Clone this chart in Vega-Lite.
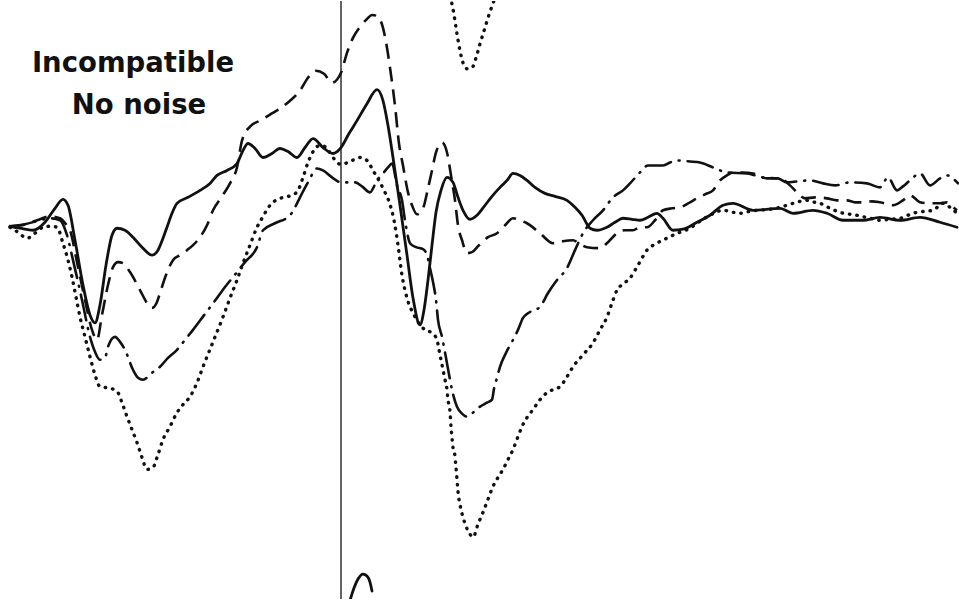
{
  "$schema": "https://vega.github.io/schema/vega-lite/v6.json",
  "width": 959,
  "height": 600,
  "autosize": {"type": "fit", "contains": "padding"},
  "padding": 0,
  "background": "white",
  "config": {"view": {"stroke": null}},
  "datasets": {
    "curves": [
      {"s":"solid","x":10,"y":226},{"s":"solid","x":20,"y":228},{"s":"solid","x":33,"y":230},{"s":"solid","x":45,"y":222},{"s":"solid","x":55,"y":208},{"s":"solid","x":63,"y":199},{"s":"solid","x":68,"y":205},{"s":"solid","x":75,"y":240},{"s":"solid","x":83,"y":285},{"s":"solid","x":90,"y":315},{"s":"solid","x":95,"y":323},{"s":"solid","x":100,"y":305},{"s":"solid","x":106,"y":265},{"s":"solid","x":112,"y":235},{"s":"solid","x":117,"y":228},{"s":"solid","x":125,"y":230},{"s":"solid","x":133,"y":237},{"s":"solid","x":142,"y":247},{"s":"solid","x":152,"y":255},{"s":"solid","x":158,"y":250},{"s":"solid","x":163,"y":238},{"s":"solid","x":167,"y":227},{"s":"solid","x":172,"y":213},{"s":"solid","x":177,"y":203},{"s":"solid","x":188,"y":197},{"s":"solid","x":200,"y":190},{"s":"solid","x":210,"y":183},{"s":"solid","x":217,"y":175},{"s":"solid","x":227,"y":170},{"s":"solid","x":237,"y":163},{"s":"solid","x":243,"y":150},{"s":"solid","x":248,"y":143},{"s":"solid","x":255,"y":148},{"s":"solid","x":263,"y":157},{"s":"solid","x":272,"y":153},{"s":"solid","x":280,"y":148},{"s":"solid","x":288,"y":151},{"s":"solid","x":297,"y":157},{"s":"solid","x":305,"y":147},{"s":"solid","x":313,"y":138},{"s":"solid","x":323,"y":147},{"s":"solid","x":333,"y":153},{"s":"solid","x":341,"y":147},{"s":"solid","x":349,"y":133},{"s":"solid","x":357,"y":120},{"s":"solid","x":367,"y":103},{"s":"solid","x":377,"y":89},{"s":"solid","x":383,"y":100},{"s":"solid","x":388,"y":125},{"s":"solid","x":393,"y":157},{"s":"solid","x":400,"y":205},{"s":"solid","x":407,"y":255},{"s":"solid","x":413,"y":298},{"s":"solid","x":420,"y":325},{"s":"solid","x":424,"y":310},{"s":"solid","x":428,"y":280},{"s":"solid","x":432,"y":245},{"s":"solid","x":436,"y":212},{"s":"solid","x":441,"y":190},{"s":"solid","x":447,"y":177},{"s":"solid","x":453,"y":182},{"s":"solid","x":458,"y":197},{"s":"solid","x":463,"y":210},{"s":"solid","x":470,"y":219},{"s":"solid","x":477,"y":215},{"s":"solid","x":485,"y":205},{"s":"solid","x":492,"y":196},{"s":"solid","x":500,"y":187},{"s":"solid","x":507,"y":180},{"s":"solid","x":513,"y":173},{"s":"solid","x":520,"y":175},{"s":"solid","x":527,"y":180},{"s":"solid","x":535,"y":187},{"s":"solid","x":545,"y":193},{"s":"solid","x":555,"y":196},{"s":"solid","x":567,"y":200},{"s":"solid","x":575,"y":207},{"s":"solid","x":582,"y":215},{"s":"solid","x":590,"y":228},{"s":"solid","x":597,"y":230},{"s":"solid","x":607,"y":227},{"s":"solid","x":615,"y":222},{"s":"solid","x":623,"y":218},{"s":"solid","x":632,"y":219},{"s":"solid","x":640,"y":220},{"s":"solid","x":648,"y":217},{"s":"solid","x":657,"y":213},{"s":"solid","x":663,"y":218},{"s":"solid","x":673,"y":230},{"s":"solid","x":683,"y":229},{"s":"solid","x":697,"y":222},{"s":"solid","x":710,"y":215},{"s":"solid","x":723,"y":205},{"s":"solid","x":733,"y":203},{"s":"solid","x":753,"y":210},{"s":"solid","x":780,"y":208},{"s":"solid","x":793,"y":213},{"s":"solid","x":813,"y":210},{"s":"solid","x":827,"y":213},{"s":"solid","x":843,"y":220},{"s":"solid","x":863,"y":220},{"s":"solid","x":880,"y":217},{"s":"solid","x":900,"y":220},{"s":"solid","x":920,"y":217},{"s":"solid","x":940,"y":222},{"s":"solid","x":957,"y":227},

      {"s":"dashed","x":10,"y":226},{"s":"dashed","x":22,"y":225},{"s":"dashed","x":37,"y":220},{"s":"dashed","x":50,"y":216},{"s":"dashed","x":60,"y":218},{"s":"dashed","x":66,"y":224},{"s":"dashed","x":70,"y":230},{"s":"dashed","x":77,"y":262},{"s":"dashed","x":85,"y":300},{"s":"dashed","x":92,"y":330},{"s":"dashed","x":97,"y":340},{"s":"dashed","x":102,"y":315},{"s":"dashed","x":108,"y":285},{"s":"dashed","x":113,"y":267},{"s":"dashed","x":118,"y":262},{"s":"dashed","x":123,"y":263},{"s":"dashed","x":130,"y":272},{"s":"dashed","x":140,"y":290},{"s":"dashed","x":147,"y":303},{"s":"dashed","x":152,"y":308},{"s":"dashed","x":157,"y":302},{"s":"dashed","x":160,"y":293},{"s":"dashed","x":166,"y":275},{"s":"dashed","x":173,"y":260},{"s":"dashed","x":180,"y":255},{"s":"dashed","x":187,"y":250},{"s":"dashed","x":193,"y":245},{"s":"dashed","x":200,"y":237},{"s":"dashed","x":207,"y":225},{"s":"dashed","x":213,"y":210},{"s":"dashed","x":222,"y":196},{"s":"dashed","x":230,"y":183},{"s":"dashed","x":237,"y":167},{"s":"dashed","x":242,"y":140},{"s":"dashed","x":250,"y":126},{"s":"dashed","x":260,"y":120},{"s":"dashed","x":270,"y":114},{"s":"dashed","x":280,"y":108},{"s":"dashed","x":290,"y":100},{"s":"dashed","x":300,"y":90},{"s":"dashed","x":308,"y":77},{"s":"dashed","x":316,"y":70},{"s":"dashed","x":324,"y":73},{"s":"dashed","x":332,"y":82},{"s":"dashed","x":341,"y":72},{"s":"dashed","x":347,"y":52},{"s":"dashed","x":353,"y":37},{"s":"dashed","x":360,"y":26},{"s":"dashed","x":367,"y":18},{"s":"dashed","x":372,"y":14},{"s":"dashed","x":377,"y":15},{"s":"dashed","x":383,"y":27},{"s":"dashed","x":387,"y":47},{"s":"dashed","x":390,"y":67},{"s":"dashed","x":395,"y":105},{"s":"dashed","x":399,"y":143},{"s":"dashed","x":403,"y":165},{"s":"dashed","x":408,"y":192},{"s":"dashed","x":412,"y":205},{"s":"dashed","x":417,"y":214},{"s":"dashed","x":423,"y":208},{"s":"dashed","x":428,"y":188},{"s":"dashed","x":432,"y":170},{"s":"dashed","x":436,"y":152},{"s":"dashed","x":442,"y":142},{"s":"dashed","x":447,"y":152},{"s":"dashed","x":451,"y":175},{"s":"dashed","x":455,"y":200},{"s":"dashed","x":458,"y":225},{"s":"dashed","x":462,"y":240},{"s":"dashed","x":467,"y":253},{"s":"dashed","x":472,"y":252},{"s":"dashed","x":478,"y":246},{"s":"dashed","x":488,"y":237},{"s":"dashed","x":497,"y":233},{"s":"dashed","x":505,"y":225},{"s":"dashed","x":513,"y":218},{"s":"dashed","x":520,"y":220},{"s":"dashed","x":527,"y":223},{"s":"dashed","x":540,"y":233},{"s":"dashed","x":553,"y":243},{"s":"dashed","x":563,"y":241},{"s":"dashed","x":573,"y":240},{"s":"dashed","x":580,"y":244},{"s":"dashed","x":587,"y":247},{"s":"dashed","x":600,"y":248},{"s":"dashed","x":608,"y":242},{"s":"dashed","x":617,"y":233},{"s":"dashed","x":625,"y":230},{"s":"dashed","x":633,"y":230},{"s":"dashed","x":640,"y":227},{"s":"dashed","x":647,"y":227},{"s":"dashed","x":655,"y":220},{"s":"dashed","x":663,"y":210},{"s":"dashed","x":672,"y":208},{"s":"dashed","x":680,"y":207},{"s":"dashed","x":690,"y":202},{"s":"dashed","x":697,"y":198},{"s":"dashed","x":705,"y":194},{"s":"dashed","x":713,"y":190},{"s":"dashed","x":720,"y":180},{"s":"dashed","x":727,"y":175},{"s":"dashed","x":733,"y":172},{"s":"dashed","x":743,"y":172},{"s":"dashed","x":753,"y":173},{"s":"dashed","x":767,"y":178},{"s":"dashed","x":780,"y":178},{"s":"dashed","x":790,"y":185},{"s":"dashed","x":797,"y":192},{"s":"dashed","x":805,"y":198},{"s":"dashed","x":815,"y":197},{"s":"dashed","x":827,"y":198},{"s":"dashed","x":837,"y":200},{"s":"dashed","x":847,"y":200},{"s":"dashed","x":855,"y":202},{"s":"dashed","x":863,"y":202},{"s":"dashed","x":872,"y":201},{"s":"dashed","x":880,"y":202},{"s":"dashed","x":893,"y":205},{"s":"dashed","x":903,"y":200},{"s":"dashed","x":910,"y":195},{"s":"dashed","x":915,"y":198},{"s":"dashed","x":920,"y":202},{"s":"dashed","x":930,"y":203},{"s":"dashed","x":940,"y":203},{"s":"dashed","x":947,"y":202},{"s":"dashed","x":952,"y":206},{"s":"dashed","x":957,"y":210},

      {"s":"dotted","x":10,"y":227},{"s":"dotted","x":18,"y":232},{"s":"dotted","x":27,"y":238},{"s":"dotted","x":35,"y":233},{"s":"dotted","x":43,"y":227},{"s":"dotted","x":50,"y":226},{"s":"dotted","x":57,"y":227},{"s":"dotted","x":63,"y":243},{"s":"dotted","x":68,"y":260},{"s":"dotted","x":72,"y":277},{"s":"dotted","x":76,"y":297},{"s":"dotted","x":80,"y":317},{"s":"dotted","x":85,"y":337},{"s":"dotted","x":90,"y":357},{"s":"dotted","x":95,"y":375},{"s":"dotted","x":100,"y":387},{"s":"dotted","x":107,"y":388},{"s":"dotted","x":112,"y":389},{"s":"dotted","x":118,"y":393},{"s":"dotted","x":122,"y":403},{"s":"dotted","x":127,"y":417},{"s":"dotted","x":132,"y":430},{"s":"dotted","x":137,"y":443},{"s":"dotted","x":142,"y":458},{"s":"dotted","x":147,"y":470},{"s":"dotted","x":153,"y":468},{"s":"dotted","x":158,"y":455},{"s":"dotted","x":163,"y":440},{"s":"dotted","x":170,"y":427},{"s":"dotted","x":177,"y":413},{"s":"dotted","x":183,"y":405},{"s":"dotted","x":190,"y":397},{"s":"dotted","x":197,"y":383},{"s":"dotted","x":203,"y":367},{"s":"dotted","x":213,"y":342},{"s":"dotted","x":223,"y":317},{"s":"dotted","x":230,"y":298},{"s":"dotted","x":237,"y":280},{"s":"dotted","x":243,"y":263},{"s":"dotted","x":250,"y":245},{"s":"dotted","x":257,"y":227},{"s":"dotted","x":262,"y":218},{"s":"dotted","x":270,"y":205},{"s":"dotted","x":283,"y":197},{"s":"dotted","x":292,"y":195},{"s":"dotted","x":298,"y":190},{"s":"dotted","x":303,"y":177},{"s":"dotted","x":308,"y":162},{"s":"dotted","x":312,"y":153},{"s":"dotted","x":317,"y":146},{"s":"dotted","x":322,"y":145},{"s":"dotted","x":327,"y":148},{"s":"dotted","x":333,"y":157},{"s":"dotted","x":341,"y":164},{"s":"dotted","x":350,"y":161},{"s":"dotted","x":360,"y":157},{"s":"dotted","x":367,"y":160},{"s":"dotted","x":373,"y":170},{"s":"dotted","x":380,"y":182},{"s":"dotted","x":385,"y":192},{"s":"dotted","x":390,"y":204},{"s":"dotted","x":394,"y":220},{"s":"dotted","x":398,"y":245},{"s":"dotted","x":402,"y":275},{"s":"dotted","x":407,"y":298},{"s":"dotted","x":414,"y":315},{"s":"dotted","x":425,"y":330},{"s":"dotted","x":432,"y":333},{"s":"dotted","x":437,"y":340},{"s":"dotted","x":439,"y":350},{"s":"dotted","x":441,"y":360},{"s":"dotted","x":443,"y":370},{"s":"dotted","x":445,"y":380},{"s":"dotted","x":447,"y":390},{"s":"dotted","x":448,"y":400},{"s":"dotted","x":450,"y":412},{"s":"dotted","x":451,"y":427},{"s":"dotted","x":452,"y":438},{"s":"dotted","x":453,"y":448},{"s":"dotted","x":455,"y":457},{"s":"dotted","x":456,"y":468},{"s":"dotted","x":457,"y":480},{"s":"dotted","x":458,"y":492},{"s":"dotted","x":461,"y":510},{"s":"dotted","x":463,"y":518},{"s":"dotted","x":466,"y":527},{"s":"dotted","x":470,"y":535},{"s":"dotted","x":473,"y":538},{"s":"dotted","x":478,"y":525},{"s":"dotted","x":483,"y":513},{"s":"dotted","x":488,"y":500},{"s":"dotted","x":493,"y":487},{"s":"dotted","x":498,"y":478},{"s":"dotted","x":503,"y":470},{"s":"dotted","x":508,"y":460},{"s":"dotted","x":513,"y":450},{"s":"dotted","x":518,"y":437},{"s":"dotted","x":522,"y":427},{"s":"dotted","x":527,"y":418},{"s":"dotted","x":533,"y":410},{"s":"dotted","x":540,"y":400},{"s":"dotted","x":547,"y":393},{"s":"dotted","x":553,"y":390},{"s":"dotted","x":560,"y":387},{"s":"dotted","x":567,"y":377},{"s":"dotted","x":573,"y":367},{"s":"dotted","x":583,"y":355},{"s":"dotted","x":593,"y":343},{"s":"dotted","x":600,"y":330},{"s":"dotted","x":607,"y":317},{"s":"dotted","x":612,"y":303},{"s":"dotted","x":617,"y":290},{"s":"dotted","x":623,"y":284},{"s":"dotted","x":630,"y":278},{"s":"dotted","x":638,"y":265},{"s":"dotted","x":647,"y":250},{"s":"dotted","x":657,"y":243},{"s":"dotted","x":667,"y":238},{"s":"dotted","x":673,"y":235},{"s":"dotted","x":680,"y":232},{"s":"dotted","x":690,"y":228},{"s":"dotted","x":697,"y":223},{"s":"dotted","x":710,"y":215},{"s":"dotted","x":723,"y":210},{"s":"dotted","x":733,"y":212},{"s":"dotted","x":740,"y":213},{"s":"dotted","x":750,"y":211},{"s":"dotted","x":757,"y":210},{"s":"dotted","x":770,"y":209},{"s":"dotted","x":780,"y":207},{"s":"dotted","x":793,"y":203},{"s":"dotted","x":807,"y":200},{"s":"dotted","x":815,"y":202},{"s":"dotted","x":820,"y":203},{"s":"dotted","x":830,"y":208},{"s":"dotted","x":840,"y":212},{"s":"dotted","x":857,"y":215},{"s":"dotted","x":870,"y":218},{"s":"dotted","x":880,"y":220},{"s":"dotted","x":890,"y":219},{"s":"dotted","x":900,"y":218},{"s":"dotted","x":913,"y":213},{"s":"dotted","x":925,"y":211},{"s":"dotted","x":933,"y":210},{"s":"dotted","x":943,"y":203},{"s":"dotted","x":950,"y":207},{"s":"dotted","x":957,"y":213},

      {"s":"dashdot","x":10,"y":226},{"s":"dashdot","x":25,"y":224},{"s":"dashdot","x":40,"y":220},{"s":"dashdot","x":50,"y":218},{"s":"dashdot","x":60,"y":220},{"s":"dashdot","x":67,"y":235},{"s":"dashdot","x":73,"y":260},{"s":"dashdot","x":82,"y":300},{"s":"dashdot","x":90,"y":337},{"s":"dashdot","x":95,"y":352},{"s":"dashdot","x":100,"y":360},{"s":"dashdot","x":105,"y":358},{"s":"dashdot","x":108,"y":347},{"s":"dashdot","x":115,"y":337},{"s":"dashdot","x":120,"y":342},{"s":"dashdot","x":125,"y":350},{"s":"dashdot","x":133,"y":370},{"s":"dashdot","x":138,"y":378},{"s":"dashdot","x":143,"y":380},{"s":"dashdot","x":152,"y":373},{"s":"dashdot","x":160,"y":367},{"s":"dashdot","x":168,"y":358},{"s":"dashdot","x":177,"y":350},{"s":"dashdot","x":185,"y":340},{"s":"dashdot","x":193,"y":330},{"s":"dashdot","x":205,"y":314},{"s":"dashdot","x":217,"y":298},{"s":"dashdot","x":225,"y":287},{"s":"dashdot","x":233,"y":277},{"s":"dashdot","x":245,"y":262},{"s":"dashdot","x":257,"y":247},{"s":"dashdot","x":263,"y":230},{"s":"dashdot","x":275,"y":223},{"s":"dashdot","x":290,"y":215},{"s":"dashdot","x":295,"y":207},{"s":"dashdot","x":300,"y":197},{"s":"dashdot","x":308,"y":182},{"s":"dashdot","x":317,"y":168},{"s":"dashdot","x":323,"y":170},{"s":"dashdot","x":332,"y":177},{"s":"dashdot","x":341,"y":182},{"s":"dashdot","x":348,"y":182},{"s":"dashdot","x":355,"y":182},{"s":"dashdot","x":362,"y":186},{"s":"dashdot","x":370,"y":192},{"s":"dashdot","x":377,"y":180},{"s":"dashdot","x":383,"y":173},{"s":"dashdot","x":388,"y":167},{"s":"dashdot","x":392,"y":163},{"s":"dashdot","x":397,"y":185},{"s":"dashdot","x":402,"y":200},{"s":"dashdot","x":405,"y":220},{"s":"dashdot","x":410,"y":243},{"s":"dashdot","x":416,"y":247},{"s":"dashdot","x":423,"y":249},{"s":"dashdot","x":427,"y":255},{"s":"dashdot","x":430,"y":268},{"s":"dashdot","x":433,"y":282},{"s":"dashdot","x":436,"y":300},{"s":"dashdot","x":438,"y":320},{"s":"dashdot","x":442,"y":337},{"s":"dashdot","x":446,"y":358},{"s":"dashdot","x":450,"y":380},{"s":"dashdot","x":452,"y":390},{"s":"dashdot","x":457,"y":407},{"s":"dashdot","x":462,"y":414},{"s":"dashdot","x":467,"y":417},{"s":"dashdot","x":473,"y":413},{"s":"dashdot","x":480,"y":407},{"s":"dashdot","x":487,"y":403},{"s":"dashdot","x":492,"y":400},{"s":"dashdot","x":494,"y":389},{"s":"dashdot","x":497,"y":378},{"s":"dashdot","x":500,"y":367},{"s":"dashdot","x":506,"y":353},{"s":"dashdot","x":513,"y":340},{"s":"dashdot","x":518,"y":330},{"s":"dashdot","x":523,"y":318},{"s":"dashdot","x":530,"y":312},{"s":"dashdot","x":540,"y":307},{"s":"dashdot","x":548,"y":293},{"s":"dashdot","x":557,"y":280},{"s":"dashdot","x":567,"y":268},{"s":"dashdot","x":575,"y":250},{"s":"dashdot","x":583,"y":233},{"s":"dashdot","x":593,"y":220},{"s":"dashdot","x":603,"y":210},{"s":"dashdot","x":613,"y":197},{"s":"dashdot","x":623,"y":190},{"s":"dashdot","x":630,"y":183},{"s":"dashdot","x":640,"y":172},{"s":"dashdot","x":648,"y":165},{"s":"dashdot","x":655,"y":165},{"s":"dashdot","x":663,"y":165},{"s":"dashdot","x":670,"y":162},{"s":"dashdot","x":677,"y":160},{"s":"dashdot","x":690,"y":161},{"s":"dashdot","x":700,"y":162},{"s":"dashdot","x":713,"y":167},{"s":"dashdot","x":727,"y":172},{"s":"dashdot","x":747,"y":173},{"s":"dashdot","x":763,"y":177},{"s":"dashdot","x":778,"y":178},{"s":"dashdot","x":787,"y":182},{"s":"dashdot","x":798,"y":181},{"s":"dashdot","x":810,"y":180},{"s":"dashdot","x":823,"y":183},{"s":"dashdot","x":835,"y":185},{"s":"dashdot","x":850,"y":182},{"s":"dashdot","x":867,"y":183},{"s":"dashdot","x":880,"y":187},{"s":"dashdot","x":888,"y":177},{"s":"dashdot","x":897,"y":190},{"s":"dashdot","x":903,"y":186},{"s":"dashdot","x":910,"y":180},{"s":"dashdot","x":920,"y":173},{"s":"dashdot","x":930,"y":185},{"s":"dashdot","x":940,"y":178},{"s":"dashdot","x":947,"y":175},{"s":"dashdot","x":958,"y":183},

      {"s":"topdotted","x":450,"y":-5},{"s":"topdotted","x":453,"y":8},{"s":"topdotted","x":457,"y":33},{"s":"topdotted","x":460,"y":50},{"s":"topdotted","x":463,"y":62},{"s":"topdotted","x":467,"y":68},{"s":"topdotted","x":472,"y":67},{"s":"topdotted","x":476,"y":57},{"s":"topdotted","x":480,"y":43},{"s":"topdotted","x":484,"y":30},{"s":"topdotted","x":488,"y":17},{"s":"topdotted","x":492,"y":5},{"s":"topdotted","x":495,"y":-3},

      {"s":"bottomsolid","x":349,"y":605},{"s":"bottomsolid","x":354,"y":589},{"s":"bottomsolid","x":358,"y":580},{"s":"bottomsolid","x":363,"y":575},{"s":"bottomsolid","x":367,"y":577},{"s":"bottomsolid","x":370,"y":583},{"s":"bottomsolid","x":372,"y":592}
    ],
    "labels": [
      {"t": "Incompatible", "x": 133, "y": 71},
      {"t": "No noise", "x": 139, "y": 113}
    ],
    "marker": [{"x": 341}]
  },
  "layer": [
    {
      "data": {"name": "marker"},
      "mark": {"type": "rule", "color": "#222", "strokeWidth": 1.4},
      "encoding": {
        "x": {"field": "x", "type": "quantitative", "scale": {"domain": [0, 959], "nice": false, "zero": false}, "axis": null}
      }
    },
    {
      "data": {"name": "curves"},
      "transform": [{"filter": "datum.s === 'solid' || datum.s === 'bottomsolid'"}],
      "mark": {"type": "line", "color": "#111", "strokeWidth": 2.8, "interpolate": "monotone", "clip": true, "strokeJoin": "round", "strokeCap": "round"},
      "encoding": {
        "x": {"field": "x", "type": "quantitative", "scale": {"domain": [0, 959], "nice": false, "zero": false}, "axis": null},
        "y": {"field": "y", "type": "quantitative", "scale": {"domain": [0, 600], "nice": false, "zero": false, "reverse": true}, "axis": null},
        "detail": {"field": "s"},
        "order": {"value": null}
      }
    },
    {
      "data": {"name": "curves"},
      "transform": [{"filter": "datum.s === 'dashed'"}],
      "mark": {"type": "line", "color": "#111", "strokeWidth": 2.6, "strokeDash": [15, 8], "interpolate": "monotone", "clip": true},
      "encoding": {
        "x": {"field": "x", "type": "quantitative", "scale": {"domain": [0, 959], "nice": false, "zero": false}, "axis": null},
        "y": {"field": "y", "type": "quantitative", "scale": {"domain": [0, 600], "nice": false, "zero": false, "reverse": true}, "axis": null},
        "order": {"value": null}
      }
    },
    {
      "data": {"name": "curves"},
      "transform": [{"filter": "datum.s === 'dotted' || datum.s === 'topdotted'"}],
      "mark": {"type": "line", "color": "#111", "strokeWidth": 3.4, "strokeDash": [0.5, 7], "strokeCap": "round", "interpolate": "monotone", "clip": true},
      "encoding": {
        "x": {"field": "x", "type": "quantitative", "scale": {"domain": [0, 959], "nice": false, "zero": false}, "axis": null},
        "y": {"field": "y", "type": "quantitative", "scale": {"domain": [0, 600], "nice": false, "zero": false, "reverse": true}, "axis": null},
        "detail": {"field": "s"},
        "order": {"value": null}
      }
    },
    {
      "data": {"name": "curves"},
      "transform": [{"filter": "datum.s === 'dashdot'"}],
      "mark": {"type": "line", "color": "#111", "strokeWidth": 2.6, "strokeDash": [26, 8, 1, 8], "strokeCap": "round", "interpolate": "monotone", "clip": true},
      "encoding": {
        "x": {"field": "x", "type": "quantitative", "scale": {"domain": [0, 959], "nice": false, "zero": false}, "axis": null},
        "y": {"field": "y", "type": "quantitative", "scale": {"domain": [0, 600], "nice": false, "zero": false, "reverse": true}, "axis": null},
        "order": {"value": null}
      }
    },
    {
      "data": {"name": "labels"},
      "mark": {"type": "text", "font": "DejaVu Sans", "fontWeight": "bold", "fontSize": 27.5, "align": "center", "baseline": "alphabetic", "color": "#111"},
      "encoding": {
        "x": {"field": "x", "type": "quantitative", "scale": {"domain": [0, 959], "nice": false, "zero": false}, "axis": null},
        "y": {"field": "y", "type": "quantitative", "scale": {"domain": [0, 600], "nice": false, "zero": false, "reverse": true}, "axis": null},
        "text": {"field": "t"}
      }
    }
  ]
}
